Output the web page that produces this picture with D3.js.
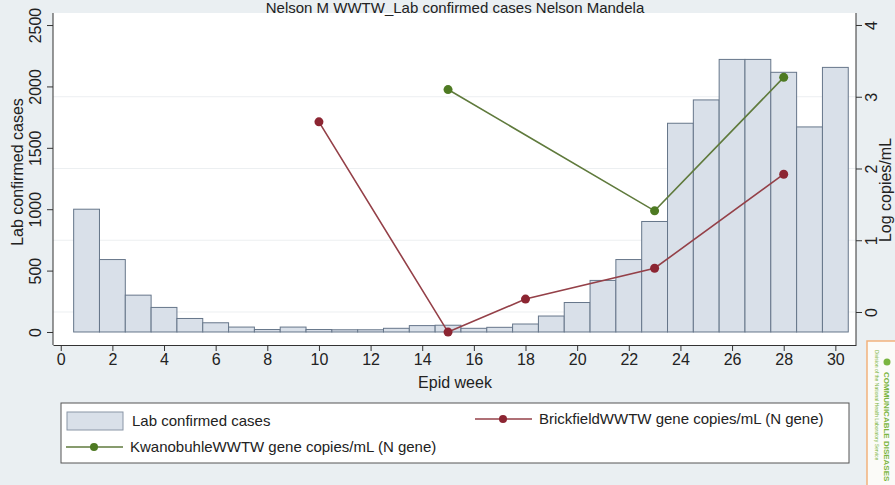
<!DOCTYPE html>
<html>
<head>
<meta charset="utf-8">
<script src="https://cdn.jsdelivr.net/npm/d3@7"></script>
<style>
  body { margin: 0; background: #eaeff2; }
  svg { display: block; font-family: "Liberation Sans", Arial, sans-serif; }
</style>
</head>
<body>
<svg width="895" height="485"></svg>
<script>
const weeks = [1, 2, 3, 4, 5, 6, 7, 8, 9, 10, 11, 12, 13, 14, 15, 16, 17, 18, 19, 20, 21, 22, 23, 24, 25, 26, 27, 28, 29, 30];
const cases = [1000, 590, 300, 200, 110, 75, 40, 20, 40, 20, 18, 18, 30, 52, 55, 30, 38, 65, 130, 240, 420, 590, 900, 1700, 1890, 2220, 2220, 2115, 1670, 2155];

const brickWeeks = [10, 15, 18, 23, 28];
const brickVals = [2.65, -0.28, 0.18, 0.61, 1.92];

const kwanoWeeks = [15, 23, 28];
const kwanoVals = [3.10, 1.41, 3.27];

const xTicks = d3.range(0, 31, 2);
const leftTicks = [0, 500, 1000, 1500, 2000, 2500];
const rightTicks = [0, 1, 2, 3, 4];

const svg = d3.select('svg');
const plot = { left: 53, right: 856, top: 13, bottom: 345 };

const x = d3.scaleLinear().domain([-0.3, 30.8]).range([plot.left, plot.right]);
const yL = d3.scaleLinear().domain([-106, 2598]).range([plot.bottom, plot.top]);
const yR = d3.scaleLinear().domain([-0.46, 4.167]).range([plot.bottom, plot.top]);

svg.append('rect')
  .attr('x', plot.left).attr('y', plot.top)
  .attr('width', plot.right - plot.left).attr('height', plot.bottom - plot.top)
  .attr('fill', '#fff');

// title sits on the top edge of the plot
svg.append('text')
  .attr('x', 455).attr('y', 13)
  .attr('text-anchor', 'middle')
  .attr('font-size', 15)
  .attr('fill', '#222')
  .text('Nelson M WWTW_Lab confirmed cases Nelson Mandela');

// grid follows right axis
svg.append('g').selectAll('line')
  .data(rightTicks.slice(0, 4))
  .enter().append('line')
  .attr('x1', plot.left).attr('x2', plot.right)
  .attr('y1', d => yR(d)).attr('y2', d => yR(d))
  .attr('stroke', '#eceff1').attr('stroke-width', 1);

// bars
svg.append('g').selectAll('rect')
  .data(weeks)
  .enter().append('rect')
  .attr('x', (d) => x(d - 0.5))
  .attr('y', (d, i) => yL(cases[i]))
  .attr('width', x(1) - x(0))
  .attr('height', (d, i) => yL(0) - yL(cases[i]))
  .attr('fill', '#d9e0e9')
  .attr('stroke', '#66768a')
  .attr('stroke-width', 1);

function series(wk, vals, col, dotCol) {
  const pts = wk.map((w, i) => [x(w), yR(vals[i])]);
  svg.append('path')
    .attr('d', d3.line()(pts))
    .attr('fill', 'none')
    .attr('stroke', col)
    .attr('stroke-width', 1.6);
  svg.append('g').selectAll('circle')
    .data(pts)
    .enter().append('circle')
    .attr('cx', d => d[0]).attr('cy', d => d[1])
    .attr('r', 4.5)
    .attr('fill', dotCol);
}
series(brickWeeks, brickVals, '#944048', '#8c2532');
series(kwanoWeeks, kwanoVals, '#5f7a3c', '#4e7a22');

// axes
const axisStyle = g => {
  g.selectAll('path, line').attr('stroke', '#333');
  g.selectAll('text').attr('fill', '#222').attr('font-size', 16)
    .attr('font-family', '"Liberation Sans", Arial, sans-serif');
};

svg.append('g')
  .attr('transform', `translate(0,${plot.bottom})`)
  .call(d3.axisBottom(x).tickValues(xTicks).tickSize(6).tickSizeOuter(0).tickPadding(3))
  .call(axisStyle);

const gl = svg.append('g')
  .attr('transform', `translate(${plot.left},0)`)
  .call(d3.axisLeft(yL).tickValues(leftTicks).tickFormat(d3.format('d')).tickSize(6).tickSizeOuter(0))
  .call(axisStyle);
gl.select('.domain').attr('d', `M0,${plot.bottom}V${plot.top}`);
gl.selectAll('.tick text')
  .attr('x', 0).attr('y', 0).attr('dy', 0)
  .attr('text-anchor', 'middle')
  .attr('transform', 'translate(-12,0) rotate(-90)');

const gr = svg.append('g')
  .attr('transform', `translate(${plot.right},0)`)
  .call(d3.axisRight(yR).tickValues(rightTicks).tickFormat(d3.format('d')).tickSize(6).tickSizeOuter(0))
  .call(axisStyle);
gr.select('.domain').attr('d', `M0,${plot.bottom}V${plot.top}`);
gr.selectAll('.tick text')
  .attr('x', 0).attr('y', 0).attr('dy', 0)
  .attr('text-anchor', 'middle')
  .attr('transform', 'translate(21,0) rotate(-90)');

// axis titles
svg.append('text')
  .attr('transform', 'translate(23,172) rotate(-90)')
  .attr('text-anchor', 'middle').attr('font-size', 16).attr('fill', '#222')
  .text('Lab confirmed cases');
svg.append('text')
  .attr('transform', 'translate(891,190) rotate(-90)')
  .attr('text-anchor', 'middle').attr('font-size', 16).attr('fill', '#222')
  .text('Log copies/mL');
svg.append('text')
  .attr('x', 455).attr('y', 388)
  .attr('text-anchor', 'middle').attr('font-size', 16).attr('fill', '#222')
  .text('Epid week');

// legend
const lg = svg.append('g');
lg.append('rect')
  .attr('x', 61).attr('y', 403).attr('width', 788).attr('height', 60)
  .attr('fill', '#fff').attr('stroke', '#555').attr('stroke-width', 1);
lg.append('rect')
  .attr('x', 67).attr('y', 412).attr('width', 56).attr('height', 18)
  .attr('fill', '#d9e0e9').attr('stroke', '#8a96a6');
lg.append('text').attr('x', 132).attr('y', 426).attr('font-size', 15).attr('fill', '#222')
  .text('Lab confirmed cases');

function legLine(x1, yy, col, dotCol, label) {
  lg.append('line').attr('x1', x1).attr('x2', x1 + 57).attr('y1', yy).attr('y2', yy)
    .attr('stroke', col).attr('stroke-width', 1.6);
  lg.append('circle').attr('cx', x1 + 28).attr('cy', yy).attr('r', 4).attr('fill', dotCol);
  lg.append('text').attr('x', x1 + 64).attr('y', yy + 5).attr('font-size', 15).attr('fill', '#222')
    .text(label);
}
legLine(475, 419, '#944048', '#8c2532', 'BrickfieldWWTW gene copies/mL (N gene)');
legLine(66, 447, '#5f7a3c', '#4e7a22', 'KwanobuhleWWTW gene copies/mL (N gene)');

// corner logo
const logo = svg.append('g');
logo.append('rect')
  .attr('x', 867).attr('y', 341).attr('width', 40).attr('height', 150)
  .attr('fill', '#fbfbf8').attr('stroke', '#f2b27c').attr('stroke-width', 1.5);
logo.append('circle')
  .attr('cx', 887).attr('cy', 362).attr('r', 3.5).attr('fill', '#7ab540');
logo.append('text')
  .attr('transform', 'translate(884,372) rotate(90)')
  .attr('font-size', 8).attr('font-weight', 'bold').attr('fill', '#7ab540')
  .text('COMMUNICABLE DISEASES');
logo.append('text')
  .attr('transform', 'translate(875,350) rotate(90)')
  .attr('font-size', 5).attr('fill', '#7ab540')
  .text('Division of the National Health Laboratory Service');
</script>
</body>
</html>
